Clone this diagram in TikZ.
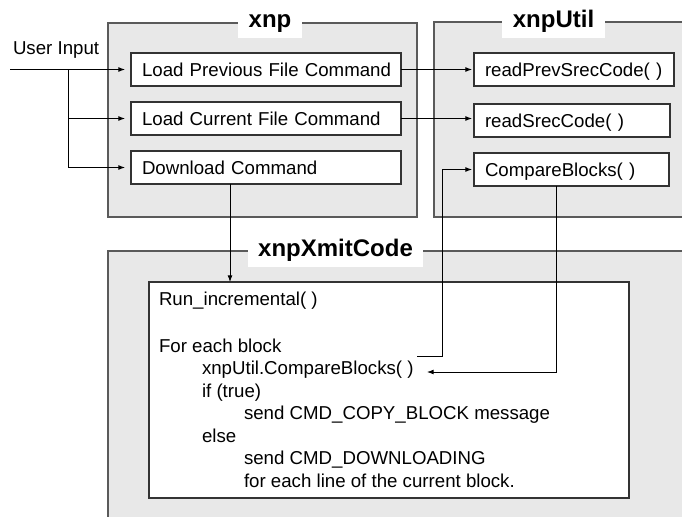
\documentclass[tikz,border=0pt]{standalone}
\usepackage{fontspec}
\setmainfont{Liberation Sans}
\usetikzlibrary{arrows.meta}
\definecolor{panelfill}{RGB}{232,232,232}
\definecolor{panelline}{RGB}{90,90,90}
\begin{document}
\begin{tikzpicture}[x=0.75pt,y=-0.75pt,inner sep=0pt,outer sep=0pt,line width=0.75pt,
>={Latex[length=5pt,width=3.75pt]},
panel/.style={draw=panelline,fill=panelfill,line width=0.9pt},
paneltitle/.style={fill=white,inner xsep=7.9pt,inner ysep=0.75pt,text height=13.9pt,text depth=6.75pt,anchor=base,font=\fontsize{18}{22}\selectfont\bfseries},
cmdbox/.style={draw=black!80,fill=white,line width=0.9pt,anchor=north west,minimum height=24.75pt,inner xsep=8.25pt,align=left,text height=10.1pt,text depth=0pt,font=\fontsize{14}{17}\selectfont},
codeline/.style={anchor=base west,font=\fontsize{14}{17}\selectfont}]
\useasboundingbox (0,0) rectangle (682,517);
\clip (0,0) rectangle (682,517);
% the three modules
\draw[panel] (108,23) rectangle (417,217);
\draw[panel] (434,22) rectangle (700,217);
\draw[panel] (108,251) rectangle (700,530);
\draw (270,28) node[paneltitle] (xnp) {xnp};
\draw (553.5,28) node[paneltitle] (xnputil) {xnpUtil};
\draw (335.5,256.5) node[paneltitle] (xmit) {xnpXmitCode};
\draw (131,53) node[cmdbox,text width=186pt] (lprev) {\mbox{Load Previous File Command}};
\draw (131,102) node[cmdbox,text width=186pt] (lcur) {Load Current File Command};
\draw (131,151) node[cmdbox,text width=186pt] (dl) {Download Command};
\draw (474,53) node[cmdbox,text width=133.5pt] (rprev) {readPrevSrecCode( )};
\draw (474,104) node[cmdbox,text width=130.5pt] (rsrec) {readSrecCode( )};
\draw (474,153) node[cmdbox,text width=129.75pt] (cmpb) {CompareBlocks( )};
\draw (149,282) node[draw=black!80,fill=white,line width=0.9pt,anchor=north west,minimum width=360pt,minimum height=162pt] (run) {};
\foreach \tx/\ty/\tline [count=\i] in {159/305/{Run\_incremental( )},159/352/{For each block},
  202/374.5/{xnpUtil.CompareBlocks( )},202/397/{if (true)},244/419.5/{send CMD\_COPY\_BLOCK message},
  202/442/{else},244/464.5/{send CMD\_DOWNLOADING},244/487/{for each line of the current block.}}
  \draw (\tx,\ty) node[codeline] (code\i) {\tline};
% user input
\draw (13,55) node[codeline] (user) {User Input};
\coordinate (uin) at (10,69.5);
\coordinate (fork) at (68,69.5);
\draw[->,shorten >=4.5pt] (uin) -- (lprev.west);
\draw[->,shorten >=4.5pt] (fork) |- (lcur.west);
\draw[->,shorten >=4.5pt] (fork) |- (dl.west);
\draw[->,shorten >=1.5pt] (lprev.east) -- (rprev.west);
\draw[->,shorten >=1.5pt] (lcur.east) -- (lcur.east -| rsrec.west);
\coordinate (dltap) at (230,0);
\draw[->] (dl.south -| dltap) -- (run.north -| dltap);
% call and return of CompareBlocks
\coordinate (call) at (417,356);
\coordinate (callup) at (442,0);
\draw[->,shorten >=1.5pt] (call) -| (callup |- cmpb.west) -- (cmpb.west);
\coordinate (ret) at (427,372);
\draw[->] ([xshift=-11.6pt]cmpb.south) |- (ret);
\end{tikzpicture}
\end{document}
